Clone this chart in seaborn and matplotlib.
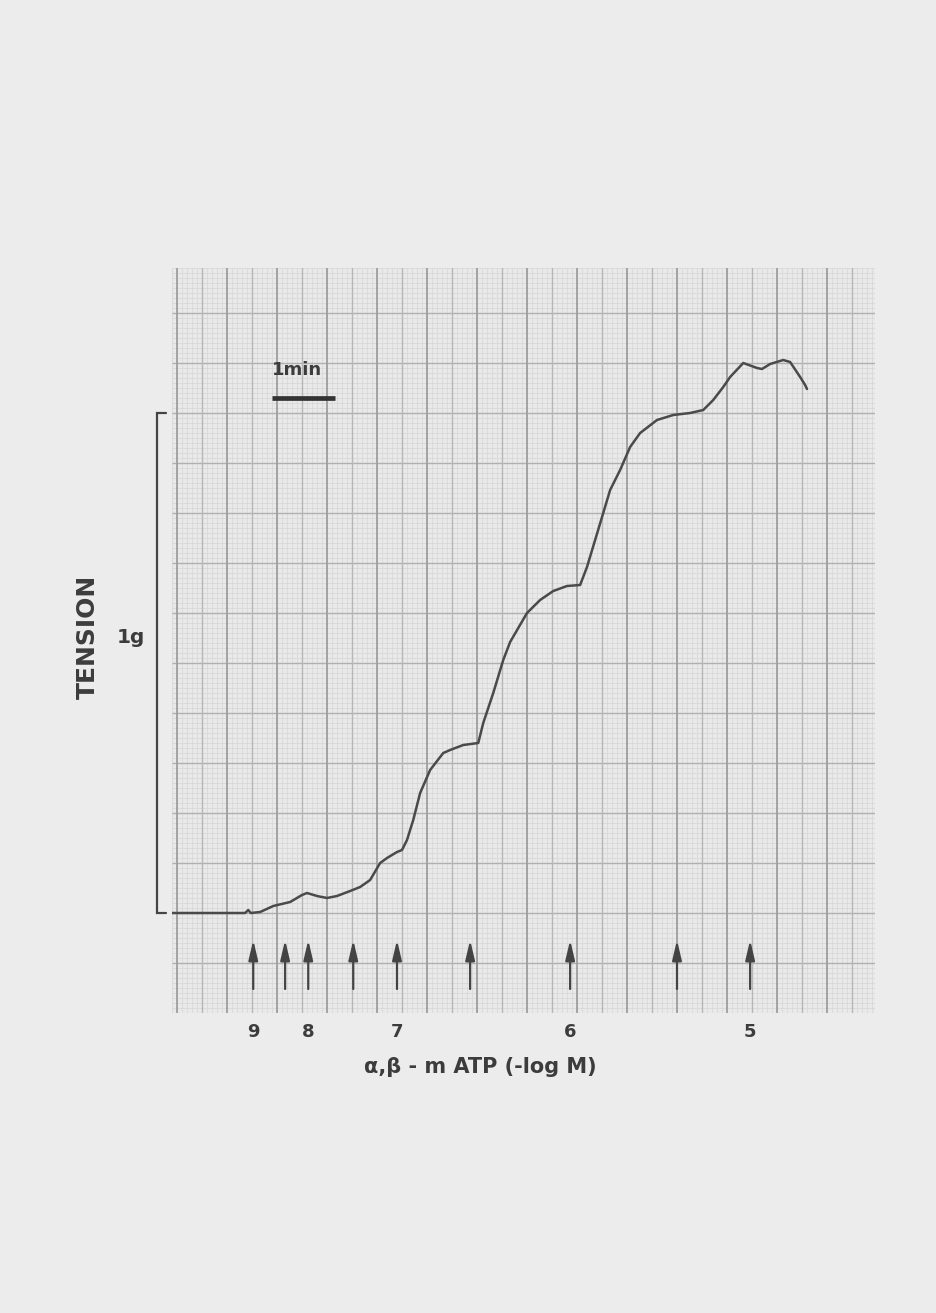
import numpy as np
import pandas as pd
import matplotlib
matplotlib.use("Agg")
import matplotlib.pyplot as plt
import seaborn as sns
from matplotlib.transforms import blended_transform_factory

sns.set_theme(style="white")
plt.rcParams['font.family'] = ['DejaVu Sans']

# Isometric tension trace (time in minutes, tension in grams)
time_min = [-0.08, 0.37, 0.85, 1.09, 1.14, 1.18, 1.33, 1.54, 1.81, 2.00, 2.08,
            2.24, 2.40, 2.56, 2.77, 2.93, 3.09, 3.25, 3.36, 3.52, 3.60, 3.68,
            3.78, 3.89, 4.05, 4.26, 4.37, 4.58, 4.82, 4.90, 5.06, 5.22, 5.33,
            5.60, 5.81, 6.02, 6.24, 6.45, 6.56, 6.82, 6.93, 7.09, 7.25, 7.41,
            7.68, 7.94, 8.21, 8.42, 8.58, 8.74, 8.85, 9.06, 9.28, 9.36, 9.49,
            9.70, 9.81, 9.97, 10.05, 10.08]
tension_g = [0.000, 0.000, 0.000, 0.000, 0.006, 0.000, 0.002, 0.014, 0.022,
             0.036, 0.040, 0.034, 0.030, 0.034, 0.044, 0.052, 0.066, 0.100,
             0.110, 0.122, 0.126, 0.146, 0.186, 0.240, 0.286, 0.320, 0.326,
             0.336, 0.340, 0.380, 0.440, 0.506, 0.542, 0.600, 0.626, 0.644,
             0.654, 0.656, 0.692, 0.800, 0.846, 0.886, 0.932, 0.960, 0.986,
             0.996, 1.000, 1.006, 1.026, 1.052, 1.072, 1.100, 1.090, 1.088,
             1.098, 1.106, 1.102, 1.072, 1.056, 1.048]

# Cumulative additions of alpha,beta-methylene ATP
dose_time_min = [1.22, 1.73, 2.10, 2.82, 3.52, 4.69, 6.29, 8.00, 9.17]
dose_neg_log_m = [9, 8.5, 8, 7.5, 7, 6.5, 6, 5.5, 5]

trace = pd.DataFrame({"time": time_min, "tension": tension_g})

page_bg = "#ececec"
ink = "#3c3c3c"

fig = plt.figure(figsize=(9.36, 13.13), dpi=100, facecolor=page_bg)
ax = fig.add_axes([172 / 936, 1 - 1013 / 1313, 703 / 936, 745 / 1313])
ax.set_facecolor("#e9e9e9")
x0, x1 = -0.08, 11.168
y0, y1 = -0.2, 1.29
ax.set_xlim(x0, x1)
ax.set_ylim(y0, y1)

# chart-recorder paper: fine ruling, then heavier divisions
fine_x = np.arange(-0.08, x1 + 1e-9, 0.08)
fine_y = np.arange(-0.20, y1 + 1e-9, 0.01)
ax.vlines(fine_x, y0, y1, color="#d6d6d6", lw=0.5, zorder=0)
ax.hlines(fine_y, x0, x1, color="#d6d6d6", lw=0.5, zorder=0)
major_y = np.arange(-0.1, y1, 0.1)
ax.hlines(major_y, x0, x1, color="#b0b0b0", lw=1.0, zorder=0.5)
for k, xv in enumerate(np.arange(0.0, x1, 0.4)):
    ax.axvline(xv, color="#9e9e9e" if k % 2 == 0 else "#b6b6b6",
               lw=1.3 if k % 2 == 0 else 1.0, zorder=0.5)

sns.lineplot(data=trace, x="time", y="tension", ax=ax, sort=False,
             color="#4a4a4a", lw=1.8, zorder=3)

# drug addition arrows
for t in dose_time_min:
    ax.annotate("", xy=(t, -0.054), xytext=(t, -0.152),
                arrowprops=dict(arrowstyle="-|>,head_length=0.85,head_width=0.2",
                                color="#444444", lw=1.6, shrinkA=0, shrinkB=0,
                                mutation_scale=14), zorder=4)

tick_pos = [t for t, c in zip(dose_time_min, dose_neg_log_m) if float(c).is_integer()]
tick_lab = [str(int(c)) for c in dose_neg_log_m if float(c).is_integer()]
ax.set_xticks(tick_pos)
ax.set_xticklabels(tick_lab, fontsize=13, fontweight="bold", color=ink)
ax.set_yticks([])
ax.tick_params(axis="x", length=0, pad=7)
ax.set_xlabel("")
ax.set_ylabel("")
for s in ax.spines.values():
    s.set_visible(False)

# 1 g calibration bracket
trans = blended_transform_factory(ax.transAxes, ax.transData)
xb, xt = -15 / 703, -6 / 703
ax.plot([xt, xb, xb, xt], [1.0, 1.0, 0.0, 0.0], transform=trans,
        clip_on=False, color="#444444", lw=1.6, solid_joinstyle="miter")

# 1 min time bar
ax.plot([1.52, 2.52], [1.031, 1.031], color="#333333", lw=3.4,
        solid_capstyle="butt", zorder=4)
ax.text(1.52, 1.086, "1min", ha="left", va="center", fontsize=13,
        fontweight="bold", color=ink, zorder=4)

fig.text(88 / 936, 1 - 637 / 1313, "TENSION", rotation=90, ha="center",
         va="center", fontsize=18, fontweight="bold", color=ink)
fig.text(131 / 936, 1 - 638 / 1313, "1g", ha="center", va="center",
         fontsize=14.5, fontweight="bold", color=ink)
fig.text(480 / 936, 1 - 1067 / 1313, "α,β - m ATP (-log M)", ha="center",
         va="center", fontsize=15, fontweight="bold", color=ink)

fig.savefig("out.png", dpi=100, facecolor=page_bg)
